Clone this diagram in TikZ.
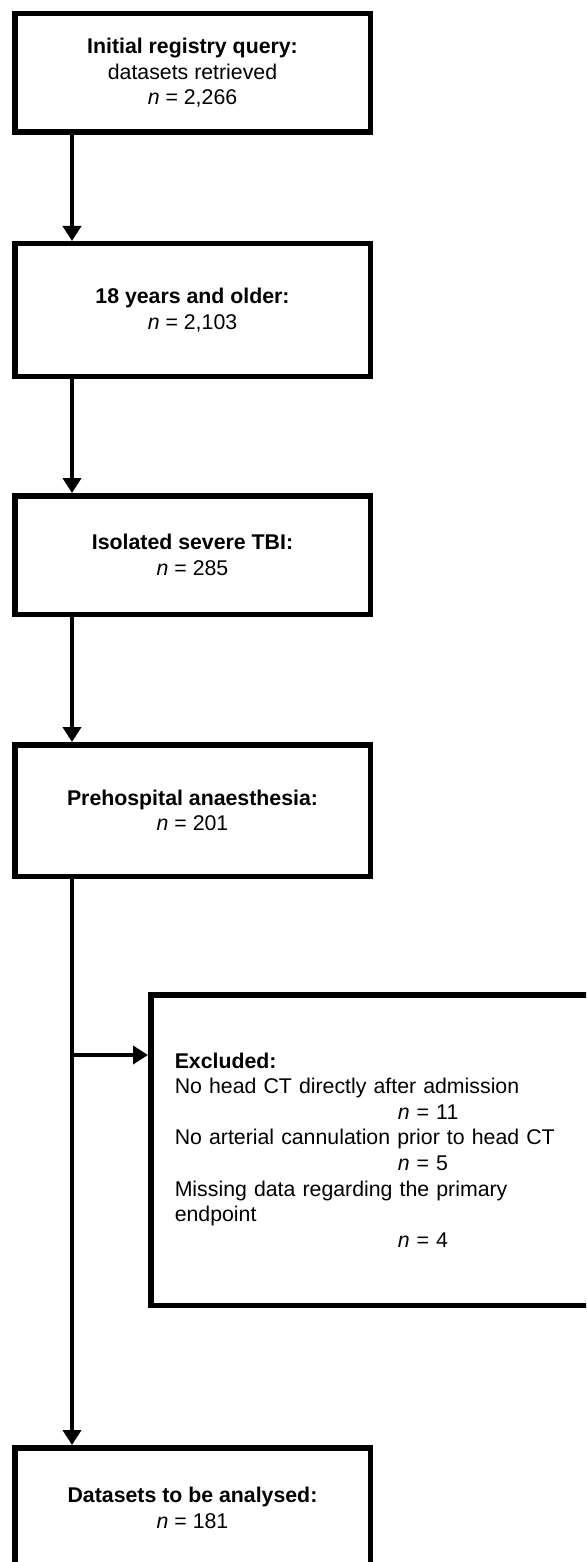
\documentclass[tikz,border=0pt]{standalone}
\usepackage{fontspec}
\setmainfont{Liberation Sans}
\usetikzlibrary{arrows.meta}
\tikzset{
  txt/.style={font=\fontsize{21.3}{25.6}\selectfont},
  flowbox/.style={draw=black, line width=5.5pt, fill=white, minimum width=355.5pt,
    inner sep=0pt, align=center, txt},
  exbox/.style={draw=black, line width=5.5pt, fill=white, minimum height=310.5pt,
    text width=420pt, inner xsep=24pt, inner ysep=0pt, align=left, anchor=west, txt},
  arr/.style={draw=black, line width=4pt, -{Triangle[width=18pt,length=15pt]}},
  plainline/.style={draw=black, line width=4pt},
}
\begin{document}
\begin{tikzpicture}[x=1pt,y=-1pt]
\useasboundingbox (0,0) rectangle (586,1562);
\fill[white] (0,0) rectangle (586,1562);
\clip (0,0) rectangle (586,1562);

\coordinate (ax) at (72,0);

\node[flowbox, minimum height=118.8pt] (b1) at (192.5,72.85)
  {\textbf{Initial registry query:}\\datasets retrieved\\\textit{n} = 2,266};
\node[flowbox, minimum height=132.5pt] (b2) at (192.5,310)
  {\textbf{18 years and older:}\\\textit{n} = 2,103};
\node[flowbox, minimum height=118.5pt] (b3) at (192.5,555)
  {\textbf{Isolated severe TBI:}\\\textit{n} = 285};
\node[flowbox, minimum height=131.5pt] (b4) at (192.5,810.5)
  {\textbf{Prehospital anaesthesia:}\\\textit{n} = 201};
\node[flowbox, minimum height=120.5pt] (b5) at (192.5,1508)
  {\textbf{Datasets to be analysed:}\\\textit{n} = 181};

\node[exbox] (ex) at (148,1150)
  {\textbf{Excluded:}\\
   No head CT directly after admission\\
   \hspace*{223pt}\textit{n} = 11\\
   No arterial cannulation prior to head CT\\
   \hspace*{223pt}\textit{n} = 5\\
   Missing data regarding the primary\\
   endpoint\\
   \hspace*{223pt}\textit{n} = 4};

\coordinate (br) at (72,1055);

\draw[arr] (b1.south -| ax) -- (b2.north -| ax);
\draw[arr] (b2.south -| ax) -- (b3.north -| ax);
\draw[arr] (b3.south -| ax) -- (b4.north -| ax);
\draw[arr] (b4.south -| ax) -- (b5.north -| ax);
\draw[arr] (br) -- (ex.west |- br);
\end{tikzpicture}
\end{document}
